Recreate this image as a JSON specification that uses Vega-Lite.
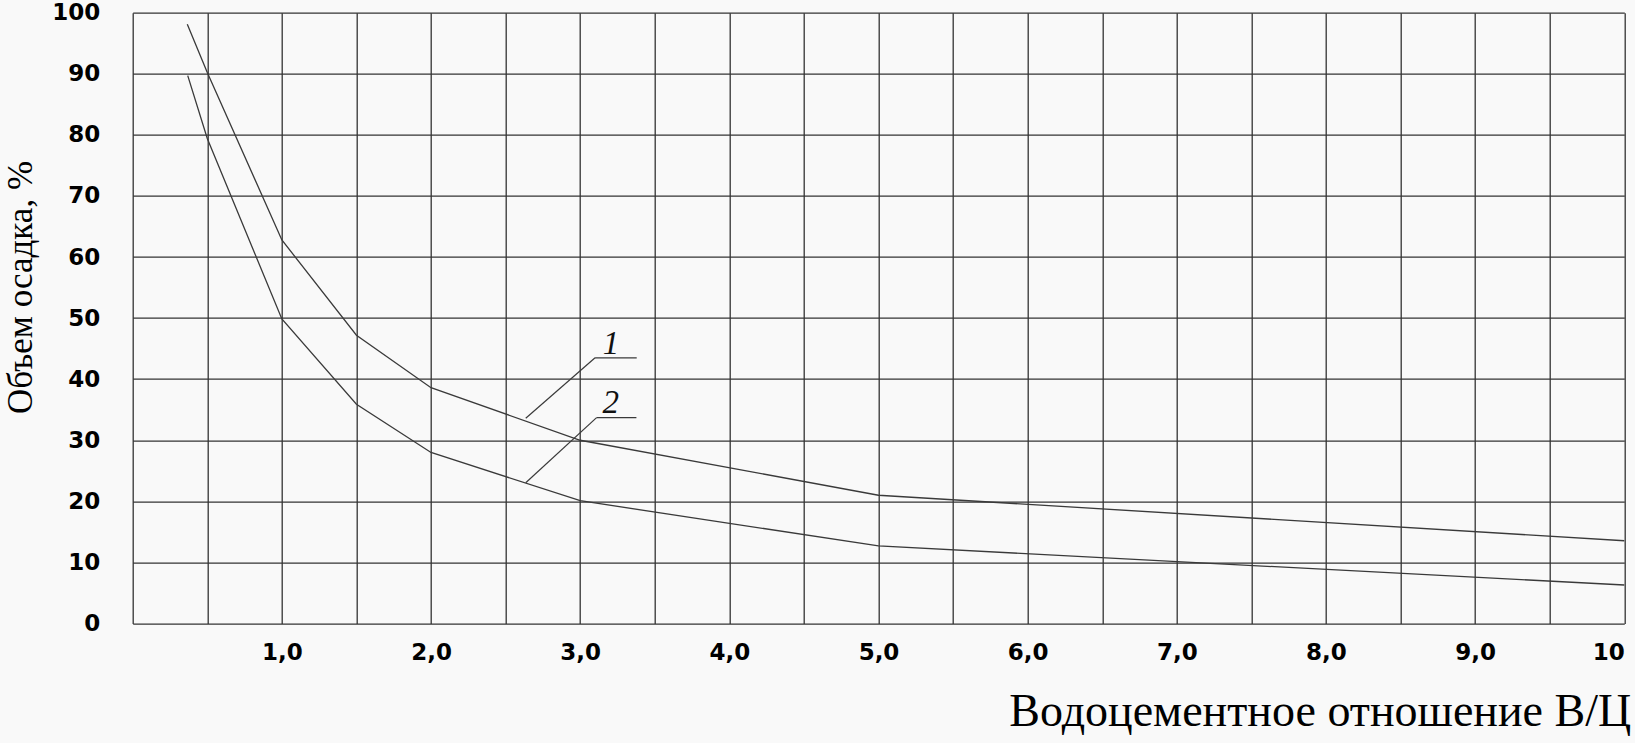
{
  "$schema": "https://vega.github.io/schema/vega-lite/v6.json",
  "autosize": {"type": "none"},
  "width": 1491.6,
  "height": 610.8,
  "padding": {"left": 132.7, "top": 12.7, "right": 10.7, "bottom": 119.5},
  "background": "#f9f9f9",
  "config": {
    "view": {"stroke": null},
    "axis": {"domain": false, "ticks": false, "gridColor": "#333333", "gridWidth": 1.3, "gridOpacity": 1}
  },
  "datasets": {
    "curves": [
      {"s": "1", "x": 0.366, "y": 98.1},
      {"s": "1", "x": 0.5, "y": 90.2},
      {"s": "1", "x": 1.0, "y": 62.8},
      {"s": "1", "x": 1.5, "y": 47.2},
      {"s": "1", "x": 2.0, "y": 38.6},
      {"s": "1", "x": 3.0, "y": 30.0},
      {"s": "1", "x": 5.0, "y": 21.0},
      {"s": "1", "x": 10.0, "y": 13.55},
      {"s": "2", "x": 0.369, "y": 89.7},
      {"s": "2", "x": 0.5, "y": 79.4},
      {"s": "2", "x": 1.0, "y": 49.85},
      {"s": "2", "x": 1.5, "y": 35.9},
      {"s": "2", "x": 2.0, "y": 28.0},
      {"s": "2", "x": 3.0, "y": 20.1},
      {"s": "2", "x": 5.0, "y": 12.7},
      {"s": "2", "x": 10.0, "y": 6.3}
    ],
    "leaders": [
      {"x": 2.635, "y": 33.6, "x2": 3.10, "y2": 43.5},
      {"x": 3.10, "y": 43.5, "x2": 3.379, "y2": 43.5},
      {"x": 2.635, "y": 23.05, "x2": 3.11, "y2": 33.7},
      {"x": 3.11, "y": 33.7, "x2": 3.377, "y2": 33.7}
    ],
    "labels": [
      {"x": 3.206, "y": 44.1, "t": "1"},
      {"x": 3.205, "y": 34.5, "t": "2"}
    ]
  },
  "layer": [
    {
      "data": {"name": "curves"},
      "mark": {"type": "line", "color": "#3a3a3a", "strokeWidth": 1.3},
      "encoding": {
        "x": {
          "field": "x", "type": "quantitative",
          "scale": {"domain": [0, 10], "nice": false, "zero": false},
          "axis": {
            "values": [0, 0.5, 1, 1.5, 2, 2.5, 3, 3.5, 4, 4.5, 5, 5.5, 6, 6.5, 7, 7.5, 8, 8.5, 9, 9.5, 10],
            "labelExpr": "datum.value >= 1 && datum.value % 1 == 0 ? (datum.value == 10 ? '10' : replace(format(datum.value, '.1f'), '.', ',')) : ''",
            "labelFont": "DejaVu Sans", "labelFontWeight": "bold", "labelFontSize": 23, "labelColor": "#000000",
            "labelPadding": 18, "labelOverlap": false, "labelFlush": true,
            "title": "Водоцементное отношение В/Ц",
            "titleFont": "Liberation Serif", "titleFontWeight": "normal", "titleFontSize": 46, "titleColor": "#000000",
            "titleAnchor": "end", "titleAlign": "right", "titleBaseline": "alphabetic",
            "titleX": 1498, "titleY": 101.5
          }
        },
        "y": {
          "field": "y", "type": "quantitative",
          "scale": {"domain": [0, 100], "nice": false, "zero": false},
          "axis": {
            "values": [0, 10, 20, 30, 40, 50, 60, 70, 80, 90, 100],
            "labelFont": "DejaVu Sans", "labelFontWeight": "bold", "labelFontSize": 23, "labelColor": "#000000",
            "labelPadding": 33, "labelOverlap": false, "labelFlush": false, "labelBaseline": "middle",
            "title": "Объем осадка, %",
            "titleFont": "Liberation Serif", "titleFontWeight": "normal", "titleFontSize": 35, "titleColor": "#000000",
            "titleAngle": -90, "titleAlign": "center", "titleBaseline": "alphabetic",
            "titleX": -101.7, "titleY": 274.3
          }
        },
        "detail": {"field": "s", "type": "nominal"}
      }
    },
    {
      "data": {"name": "leaders"},
      "mark": {"type": "rule", "color": "#3a3a3a", "strokeWidth": 1.2},
      "encoding": {
        "x": {"field": "x", "type": "quantitative"},
        "y": {"field": "y", "type": "quantitative"},
        "x2": {"field": "x2"},
        "y2": {"field": "y2"}
      }
    },
    {
      "data": {"name": "labels"},
      "mark": {"type": "text", "font": "Liberation Serif", "fontStyle": "italic", "fontSize": 33, "align": "center", "baseline": "alphabetic", "color": "#111111"},
      "encoding": {
        "x": {"field": "x", "type": "quantitative"},
        "y": {"field": "y", "type": "quantitative"},
        "text": {"field": "t"}
      }
    }
  ]
}
